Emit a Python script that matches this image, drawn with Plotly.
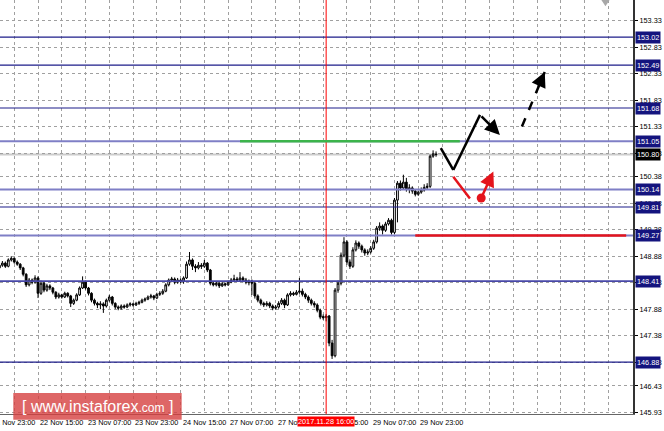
import plotly.graph_objects as go

# ---------------- data ----------------
bar_index = list(range(3, 151))  # hourly bars, index 0 = 21 Nov 23:00

opens = [148.66,148.71,148.75,148.69,148.81,148.84,148.77,148.73,148.66,148.54,
         148.34,148.43,148.39,148.47,148.18,148.37,148.24,148.32,148.28,148.20,
         148.11,148.15,148.11,148.18,148.13,147.99,148.05,148.15,148.28,148.39,
         148.28,148.18,148.05,147.99,147.96,147.98,147.94,148.05,148.11,147.99,
         147.92,147.90,147.94,147.92,147.96,147.98,147.96,147.99,148.01,148.05,
         148.07,148.11,148.13,148.09,148.16,148.18,148.22,148.34,148.43,148.45,
         148.39,148.43,148.41,148.47,148.73,148.81,148.69,148.66,148.71,148.69,
         148.75,148.62,148.37,148.34,148.37,148.32,148.36,148.34,148.39,148.43,
         148.45,148.43,148.47,148.43,148.38,148.41,148.37,148.13,148.05,147.99,
         147.96,147.99,147.94,147.90,147.92,147.99,148.05,147.96,148.15,148.18,
         148.16,148.20,148.22,148.16,148.11,148.05,147.99,147.96,147.86,147.74,
         147.72,147.75,147.24,147.00,148.24,148.37,148.90,149.15,148.77,148.69,
         149.00,149.13,149.07,149.00,148.94,148.96,149.03,149.15,149.41,149.45,
         149.37,149.49,149.56,149.33,149.94,150.26,150.17,150.28,150.15,150.17,
         150.11,150.05,150.09,150.13,150.18,150.20,150.77,150.81]
highs = [148.76,148.79,148.78,148.84,148.88,148.86,148.80,148.75,148.68,148.56,
         148.47,148.46,148.52,148.50,148.42,148.41,148.36,148.35,148.30,148.22,
         148.19,148.17,148.21,148.20,148.15,148.08,148.18,148.31,148.50,148.42,
         148.30,148.20,148.08,148.02,148.03,148.01,148.08,148.15,148.13,148.01,
         147.95,147.97,147.97,147.99,148.01,148.00,148.02,148.04,148.08,148.10,
         148.14,148.17,148.15,148.19,148.22,148.26,148.37,148.46,148.49,148.48,
         148.47,148.46,148.50,148.78,148.96,148.84,148.73,148.77,148.75,148.81,
         148.77,148.64,148.40,148.40,148.39,148.39,148.38,148.42,148.47,148.53,
         148.49,148.58,148.50,148.47,148.44,148.44,148.39,148.16,148.08,148.02,
         148.03,148.02,147.97,147.96,148.03,148.09,148.08,148.18,148.22,148.21,
         148.24,148.47,148.27,148.19,148.14,148.08,148.03,147.99,147.89,147.78,
         147.79,147.77,147.30,148.28,148.42,148.95,149.24,149.18,148.82,149.05,
         149.18,149.16,149.10,149.03,149.01,149.07,149.19,149.45,149.52,149.48,
         149.53,149.60,149.59,149.98,150.30,150.31,150.42,150.36,150.24,150.20,
         150.14,150.12,150.18,150.24,150.26,150.80,150.88,150.86]
lows = [148.63,148.68,148.66,148.67,148.78,148.74,148.70,148.62,148.50,148.30,
        148.31,148.35,148.36,148.09,148.15,148.20,148.21,148.24,148.16,148.07,
        148.08,148.08,148.09,148.10,147.92,147.96,148.03,148.13,148.26,148.25,
        148.14,148.01,147.95,147.90,147.88,147.81,147.91,148.02,147.95,147.88,
        147.86,147.87,147.89,147.90,147.93,147.93,147.94,147.96,147.99,148.02,
        148.05,148.08,148.05,148.07,148.13,148.15,148.20,148.31,148.39,148.35,
        148.36,148.37,148.36,148.45,148.70,148.62,148.58,148.63,148.64,148.66,
        148.58,148.33,148.31,148.31,148.28,148.30,148.31,148.32,148.37,148.41,
        148.40,148.41,148.39,148.35,148.33,148.15,148.08,148.01,147.95,147.92,
        147.93,147.90,147.86,147.87,147.89,147.96,147.90,147.94,148.12,148.13,
        148.14,148.17,148.12,148.07,148.00,147.95,147.91,147.82,147.69,147.68,
        147.65,147.18,146.94,146.97,148.19,148.33,148.86,148.72,148.64,148.66,
        148.97,149.02,148.95,148.89,148.90,148.93,149.00,149.12,149.36,149.29,
        149.34,149.46,149.29,149.30,149.52,150.12,150.14,150.10,150.07,150.06,
        150.01,150.02,150.06,150.10,150.15,150.17,150.74,150.76]
closes = [148.71,148.75,148.69,148.81,148.84,148.77,148.73,148.66,148.54,148.34,
          148.43,148.39,148.47,148.18,148.37,148.24,148.32,148.28,148.20,148.11,
          148.15,148.11,148.18,148.13,147.99,148.05,148.15,148.28,148.39,148.28,
          148.18,148.05,147.99,147.96,147.98,147.94,148.05,148.11,147.99,147.92,
          147.90,147.94,147.92,147.96,147.98,147.96,147.99,148.01,148.05,148.07,
          148.11,148.13,148.09,148.16,148.18,148.22,148.34,148.43,148.45,148.39,
          148.43,148.41,148.47,148.73,148.81,148.69,148.66,148.71,148.69,148.75,
          148.62,148.37,148.34,148.37,148.32,148.36,148.34,148.39,148.43,148.45,
          148.43,148.47,148.43,148.39,148.41,148.37,148.13,148.05,147.99,147.96,
          147.99,147.94,147.90,147.92,147.99,148.05,147.96,148.15,148.18,148.16,
          148.20,148.22,148.16,148.11,148.05,147.99,147.96,147.86,147.73,147.72,
          147.75,147.24,147.00,148.24,148.37,148.90,149.15,148.77,148.69,149.00,
          149.13,149.07,149.00,148.94,148.96,149.03,149.15,149.41,149.45,149.37,
          149.49,149.56,149.33,149.94,150.26,150.17,150.28,150.15,150.17,150.11,
          150.05,150.09,150.13,150.18,150.20,150.77,150.81,150.80]

level_prices = [153.02, 152.49, 151.68, 151.05, 150.14, 149.81, 149.27, 148.41, 146.88]
level_colors = ["#1c1c8a", "#1c1c8a", "#1c1c8a", "#7f7fc6", "#7f7fc6", "#1c1c8a", "#7f7fc6", "#4848a8", "#1c1c8a"]
level_widths = [1.2, 1.2, 1.2, 2, 2, 1.2, 2, 1.6, 1.4]
current_price = 150.80

price_ticks = [153.33, 152.83, 152.33, 151.83, 151.33, 150.83, 150.38, 149.88,
               149.38, 148.88, 148.38, 147.88, 147.38, 146.88, 146.43, 145.93]
time_tick_index = [0, 16, 32, 48, 64, 80, 96, 112, 128, 144]
time_tick_labels = ["21 Nov 23:00", "22 Nov 15:00", "23 Nov 07:00", "23 Nov 23:00",
                    "24 Nov 15:00", "27 Nov 07:00", "27 Nov 23:00", "28 Nov 15:00",
                    "29 Nov 07:00", "29 Nov 23:00"]
grid_index = list(range(0, 224, 8))
marker_index = 113
marker_label = "2017.11.28 16:00"

green_level = [84, 158, 151.05]
red_level = [143, 214, 149.27]
# forecast scheme (bar index, price)
black_path = [(151.6, 150.92), (155.8, 150.51), (164.8, 151.55), (171.5, 151.17)]
red_path = [(155.8, 150.38), (161.4, 149.97)]
red_dot = (165.2, 149.98)
red_arrow_tip = (169.3, 150.48)
dashed_path = [(178.9, 151.33), (186.6, 152.36)]

X_RANGE = [3.2, 216.3]
Y_RANGE = [145.90, 153.72]
FONT = "Liberation Sans"
FS = 7.3
GRID = "#a0a0a0"
GRID_DASH = "3px,3px"

# ---------------- figure ----------------
fig = go.Figure()
fig.add_trace(go.Candlestick(
    x=bar_index, open=opens, high=highs, low=lows, close=closes,
    increasing=dict(line=dict(color="#000000", width=1), fillcolor="#ffffff"),
    decreasing=dict(line=dict(color="#000000", width=1), fillcolor="#000000"),
    whiskerwidth=0, showlegend=False, hoverinfo="skip"))

shapes = []
shapes.append(dict(type="line", xref="paper", x0=0, x1=1, yref="y", y0=current_price, y1=current_price,
                   line=dict(color="#cccccc", width=2), layer="below"))
for p, c, w in zip(level_prices, level_colors, level_widths):
    shapes.append(dict(type="line", xref="paper", x0=0, x1=1, yref="y", y0=p, y1=p,
                       line=dict(color=c, width=w)))
shapes.append(dict(type="line", xref="x", x0=marker_index, x1=marker_index, yref="paper", y0=0, y1=1,
                   line=dict(color="#ff0000", width=1)))
shapes.append(dict(type="line", x0=green_level[0], x1=green_level[1], y0=green_level[2], y1=green_level[2],
                   line=dict(color="#3cb44b", width=2.5)))
shapes.append(dict(type="line", x0=red_level[0], x1=red_level[1], y0=red_level[2], y1=red_level[2],
                   line=dict(color="#e4141c", width=2.5)))
for a, b in zip(black_path[:-2], black_path[1:-1]):
    shapes.append(dict(type="line", x0=a[0], y0=a[1], x1=b[0], y1=b[1],
                       line=dict(color="#000000", width=2.5)))
shapes.append(dict(type="line", x0=red_path[0][0], y0=red_path[0][1], x1=red_path[1][0], y1=red_path[1][1],
                   line=dict(color="#e4141c", width=2.5)))
shapes.append(dict(type="line", x0=dashed_path[0][0], y0=dashed_path[0][1],
                   x1=dashed_path[1][0], y1=dashed_path[1][1],
                   line=dict(color="#000000", width=2.5, dash="dash")))
shapes.append(dict(type="path", xref="paper", yref="paper",
                   path="M 0.950 1 L 0.963 1 L 0.9565 0.985 Z",
                   fillcolor="#a8a8a8", line=dict(width=0)))
shapes.append(dict(type="rect", xref="paper", yref="paper", x0=0.021, x1=0.287, y0=-0.014, y1=0.051,
                   fillcolor="rgba(214,64,64,0.80)", line=dict(width=0), layer="above"))

fig.add_trace(go.Scatter(x=[red_dot[0]], y=[red_dot[1]], mode="markers",
                         marker=dict(color="#e4141c", size=9), showlegend=False, hoverinfo="skip"))

ann = []
ann.append(dict(x=black_path[-1][0], y=black_path[-1][1], ax=black_path[-2][0], ay=black_path[-2][1],
                xref="x", yref="y", axref="x", ayref="y", text="", showarrow=True,
                arrowhead=2, arrowsize=1.2, arrowwidth=2.5, arrowcolor="#000000"))
ann.append(dict(x=red_arrow_tip[0], y=red_arrow_tip[1], ax=red_dot[0], ay=red_dot[1],
                xref="x", yref="y", axref="x", ayref="y", text="", showarrow=True,
                arrowhead=2, arrowsize=1.2, arrowwidth=2.5, arrowcolor="#e4141c"))
ann.append(dict(x=dashed_path[1][0], y=dashed_path[1][1],
                ax=dashed_path[1][0] - 0.8, ay=dashed_path[1][1] - 0.1,
                xref="x", yref="y", axref="x", ayref="y", text="", showarrow=True,
                arrowhead=2, arrowsize=1.2, arrowwidth=2.5, arrowcolor="#000000"))

for p in level_prices:
    ann.append(dict(x=1, xref="paper", xanchor="left", xshift=2, y=p, yref="y", yanchor="middle",
                    text=f"{p:.2f}", showarrow=False, bgcolor="#14147e",
                    font=dict(color="#ffffff", size=FS, family=FONT), borderpad=1))
ann.append(dict(x=1, xref="paper", xanchor="left", xshift=2, y=current_price, yref="y", yanchor="middle",
                text=f"{current_price:.2f}", showarrow=False, bgcolor="#000000",
                font=dict(color="#ffffff", size=FS, family=FONT), borderpad=1))

for i, t in zip(time_tick_index, time_tick_labels):
    px = (i - X_RANGE[0]) / (X_RANGE[1] - X_RANGE[0])
    ann.append(dict(x=px, xref="paper", xanchor="left", y=0, yref="paper", yanchor="top", yshift=-2,
                    text=t, showarrow=False, font=dict(color="#000000", size=FS, family=FONT)))
ann.append(dict(x=marker_index, xref="x", xanchor="center", y=0, yref="paper", yanchor="top", yshift=-2,
                text=marker_label, showarrow=False, bgcolor="#ff0000", borderpad=0,
                font=dict(color="#ffffff", size=FS, family=FONT)))

ann.append(dict(x=0.154, y=0.018, xref="paper", yref="paper", xanchor="center", yanchor="middle",
                text="[ www.instaforex<span style='font-size:12px'>.com</span> ]", showarrow=False,
                font=dict(color="#ffffff", size=16, family=FONT)))

fig.update_layout(
    width=664, height=431, autosize=False,
    margin=dict(l=0, r=31, t=0, b=17, autoexpand=False),
    paper_bgcolor="#ffffff", plot_bgcolor="#ffffff",
    shapes=shapes, annotations=ann, showlegend=False, boxgap=0.15,
    xaxis=dict(range=X_RANGE, rangeslider=dict(visible=False), tickvals=grid_index,
               showticklabels=False, ticks="", showgrid=True, gridcolor=GRID, griddash=GRID_DASH,
               gridwidth=1, zeroline=False, showline=True, linecolor="#666666", linewidth=1),
    yaxis=dict(range=Y_RANGE, side="right", tickvals=price_ticks,
               ticktext=[f"{v:.2f}" for v in price_ticks], ticks="outside", ticklen=3,
               tickcolor="#000000", showgrid=True, gridcolor=GRID, griddash=GRID_DASH,
               gridwidth=1, zeroline=False, showline=True, linecolor="#333333", linewidth=2,
               tickfont=dict(size=FS, color="#000000", family=FONT)),
)

fig.write_html("out.html", config={"displayModeBar": False},
               post_script="document.body.style.margin='0';document.body.style.overflow='hidden';")
